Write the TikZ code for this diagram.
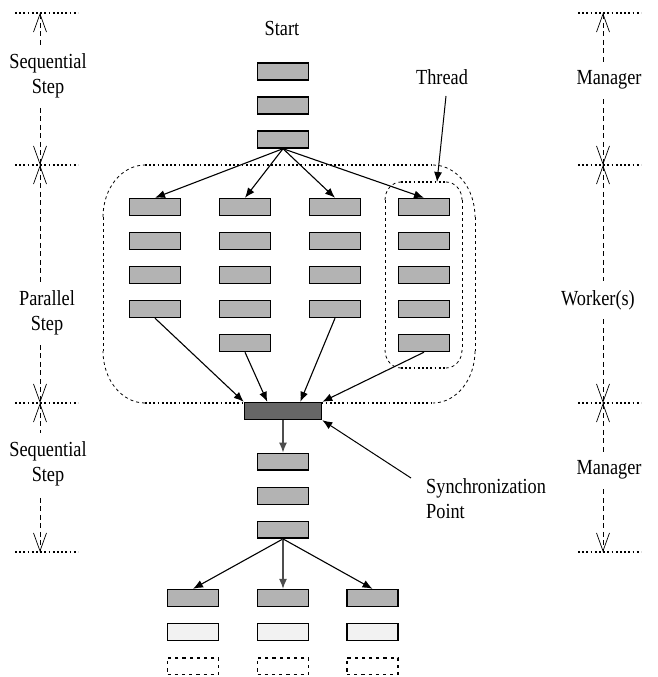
\documentclass[tikz,border=0pt]{standalone}
\usepackage{fontspec}
\setmainfont[FakeStretch=0.85]{Liberation Serif}
\usetikzlibrary{arrows.meta,calc}
\definecolor{boxgray}{HTML}{B3B3B3}
\definecolor{syncgray}{HTML}{666666}
\definecolor{lightbox}{HTML}{F2F2F2}
\definecolor{arrgray}{HTML}{4D4D4D}
\begin{document}
\begin{tikzpicture}[x=1pt,y=-1pt,
  tbox/.style={draw=black, line width=1.6pt, fill=boxgray, minimum width=51pt, minimum height=16.8pt, inner sep=0pt},
  syncbox/.style={tbox, fill=syncgray, minimum width=77pt},
  lightbx/.style={tbox, fill=lightbox},
  dotbox/.style={draw=black, line width=1.8pt, dash pattern=on 3.2pt off 4pt, minimum width=51pt, minimum height=16.8pt, inner sep=0pt},
  conn/.style={line width=1.1pt, -{Latex[length=10pt,width=8pt]}},
  gconn/.style={conn, draw=arrgray},
  tl/.style={line width=0.7pt, dash pattern=on 5pt off 3.5pt, {Straight Barb[length=18pt,width=13pt,line width=0.7pt]}-{Straight Barb[length=18pt,width=13pt,line width=0.7pt]}},
  hdot/.style={line width=1.3pt, dash pattern=on 1.8pt off 2.4pt},
  vdash/.style={line width=0.8pt, dash pattern=on 3pt off 3pt},
  lbl/.style={font=\fontsize{21.5}{25.5}\selectfont, align=center, inner sep=0pt},
  wlbl/.style={lbl, fill=white, inner xsep=3pt, inner ysep=9pt}
]
\useasboundingbox (0,0) rectangle (657,677);

% timelines
\foreach \s/\x in {L/40,R/603}{
  \coordinate (\s0) at (\x,13);
  \coordinate (\s1) at (\x,165);
  \coordinate (\s2) at (\x,403);
  \coordinate (\s3) at (\x,552);
  \draw[tl] (\s0) -- (\s1);
  \draw[tl] (\s1) -- (\s2);
  \draw[tl] (\s2) -- (\s3);
  \foreach \k in {0,1,2,3}{
    \draw[hdot] ([xshift=-25pt]\s\k) -- ([xshift=38pt]\s\k);
  }
}

% big parallel outline
\draw[hdot] (145,165) -- (433,165);
\draw[hdot] (145,403) -- (433,403);
\draw[vdash] (103,217) -- (103,351);
\draw[vdash] (475,217) -- (475,351);
\draw[vdash] (103,217) .. controls (103,188) and (122,165) .. (145,165);
\draw[vdash] (433,165) .. controls (456,165) and (475,188) .. (475,217);
\draw[vdash] (475,351) .. controls (475,380) and (456,403) .. (433,403);
\draw[vdash] (145,403) .. controls (122,403) and (103,380) .. (103,351);

% thread outline
\draw[hdot] (401,182) -- (446,182);
\draw[hdot] (401,368) -- (446,368);
\draw[vdash] (385,200) -- (385,350);
\draw[vdash] (462,200) -- (462,350);
\draw[vdash] (385,200) .. controls (385,190) and (392,182) .. (401,182);
\draw[vdash] (446,182) .. controls (455,182) and (462,190) .. (462,200);
\draw[vdash] (462,350) .. controls (462,360) and (455,368) .. (446,368);
\draw[vdash] (401,368) .. controls (392,368) and (385,360) .. (385,350);

% labels
\node[lbl] (start) at (282,28) {Start};
\node[lbl] (thread) at (442,77) {Thread};
\node[wlbl] (lseq1) at (48,76) {Sequential\\Step};
\node[wlbl] (lpar) at (47,313) {Parallel\\Step};
\node[wlbl] (lseq2) at (48,464) {Sequential\\Step};
\node[wlbl] (rman1) at (609,80) {Manager};
\node[wlbl] (rwork) at (598,300) {Worker(s)};
\node[wlbl] (rman2) at (609,470) {Manager};
\node[lbl, align=left, anchor=north west] (synclbl) at (426,478) {Synchronization\\Point};

% sequential top
\foreach \y [count=\i] in {71.7,105.5,139.5}{
  \node[tbox] (s\i) at (283,\y) {};
}

% parallel columns
\foreach \y [count=\r] in {207,241,275,309}{
  \foreach \x [count=\c] in {155,245,335,424}{
    \node[tbox] (c\c-\r) at (\x,\y) {};
  }
}
\node[tbox] (c2-5) at (245,343) {};
\node[tbox] (c4-5) at (424,343) {};

% sync
\node[syncbox] (sync) at (283,411) {};

% lower sequential
\foreach \y [count=\i] in {461.7,496,529.7}{
  \node[tbox] (m\i) at (283,\y) {};
}

% bottom threads
\foreach \x [count=\i] in {193,283,372.5}{
  \node[tbox] (b\i) at (\x,598) {};
  \node[lightbx] (l\i) at (\x,632) {};
  \node[dotbox] (d\i) at (\x,666) {};
}

% connectors
\foreach \c in {1,2,3,4}{
  \draw[conn] (s3.south) -- (c\c-1.north);
}
\draw[conn] (c1-4.south) -- (sync.north west);
\draw[conn] (c2-5.south) -- ($(sync.north west)!0.3!(sync.north east)$);
\draw[conn] (c3-4.south) -- ($(sync.north west)!0.72!(sync.north east)$);
\draw[conn] (c4-5.south) -- (sync.north east);
\draw[gconn] (sync.south) -- (m1.north);
\draw[conn] (m3.south) -- (b1.north);
\draw[gconn] (m3.south) -- (b2.north);
\draw[conn] (m3.south) -- (b3.north);

\coordinate (thrStart) at (446,96);
\coordinate (thrTip) at (437,182);
\draw[conn, line width=1pt] (thrStart) -- (thrTip);
\coordinate (syncStart) at (411,478);
\draw[conn, line width=1pt] (syncStart) -- (sync.south east);
\end{tikzpicture}
\end{document}
